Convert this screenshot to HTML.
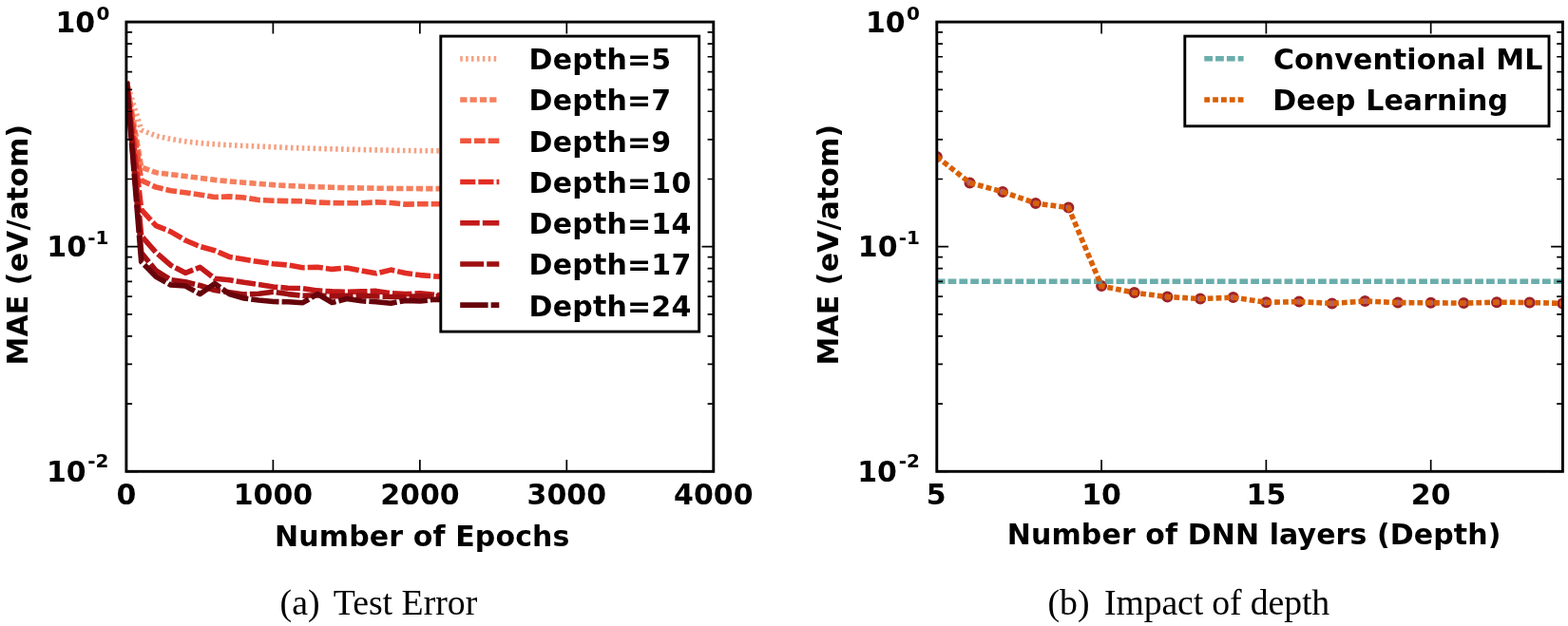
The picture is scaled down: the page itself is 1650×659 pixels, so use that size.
<!DOCTYPE html>
<html lang="en"><head><meta charset="utf-8"><title>MAE vs depth</title>
<style>html,body{margin:0;padding:0;background:#fff}body{width:1650px;height:659px;overflow:hidden}</style></head>
<body>
<svg width="1650" height="659" viewBox="0 0 1650 659" style="display:block">
<defs>
<clipPath id="c1"><rect x="132.9" y="23.1" width="617.9" height="473.2"/></clipPath>
<clipPath id="c2"><rect x="985.8" y="23.1" width="658.6000000000001" height="473.2"/></clipPath>
<filter id="soft" x="0" y="0" width="100%" height="100%" filterUnits="userSpaceOnUse" color-interpolation-filters="sRGB"><feGaussianBlur stdDeviation="0.45"/></filter>
</defs>
<g filter="url(#soft)">
<rect width="1650" height="659" fill="#fff"/>
<g clip-path="url(#c1)" fill="none" stroke-linejoin="round">
<polyline points="133.3,86.0 148.7,137.0 164.2,143.0 179.6,146.4 195.1,148.9 210.5,150.6 226.0,151.8 241.4,152.7 256.8,153.5 272.3,154.1 287.7,154.7 303.2,155.5 318.6,156.0 334.1,156.4 349.5,156.8 364.9,157.2 380.4,157.6 395.8,157.9 411.3,158.2 426.7,158.5 442.2,158.7 457.6,158.8 473.0,159.0" stroke="#f5a283" stroke-width="5.6" stroke-dasharray="2.6 3.3"/>
<polyline points="133.3,86.0 148.7,176.0 164.2,181.7 179.6,183.6 195.1,185.5 210.5,187.4 226.0,189.4 241.4,190.9 256.8,192.2 272.3,193.4 287.7,194.6 303.2,195.5 318.6,196.2 334.1,196.8 349.5,197.3 364.9,197.7 380.4,198.0 395.8,198.2 411.3,198.4 426.7,198.5 442.2,198.6 457.6,198.6 473.0,198.7" stroke="#f5805f" stroke-width="5.6" stroke-dasharray="7.28 3.05"/>
<polyline points="133.3,86.0 148.7,189.9 164.2,197.1 179.6,200.7 195.1,202.8 210.5,204.9 226.0,207.5 241.4,206.9 256.8,208.0 272.3,210.5 287.7,211.3 303.2,211.6 318.6,211.8 334.1,213.1 349.5,213.6 364.9,213.8 380.4,213.7 395.8,212.9 411.3,213.5 426.7,215.1 442.2,214.7 457.6,214.7 473.0,214.8" stroke="#f0553c" stroke-width="5.6" stroke-dasharray="11.70 3.05"/>
<polyline points="133.3,86.0 148.7,220.6 164.2,237.7 179.6,243.8 195.1,253.0 210.5,259.5 226.0,263.8 241.4,270.4 256.8,273.0 272.3,275.6 287.7,277.7 303.2,279.0 318.6,281.7 334.1,281.3 349.5,283.4 364.9,282.0 380.4,285.0 395.8,287.8 411.3,284.1 426.7,287.5 442.2,289.6 457.6,290.9 473.0,291.5" stroke="#e22d24" stroke-width="5.6" stroke-dasharray="16.12 3.05"/>
<polyline points="133.3,86.0 148.7,248.3 164.2,265.8 179.6,279.2 195.1,287.3 210.5,281.4 226.0,293.3 241.4,294.7 256.8,297.3 272.3,299.4 287.7,302.0 303.2,303.2 318.6,303.6 334.1,305.9 349.5,306.9 364.9,307.3 380.4,306.9 395.8,306.4 411.3,308.7 426.7,309.6 442.2,308.7 457.6,310.4 473.0,310.6" stroke="#c3191a" stroke-width="5.6" stroke-dasharray="20.55 3.05"/>
<polyline points="133.3,86.0 148.7,266.0 164.2,285.0 179.6,294.6 195.1,296.8 210.5,300.5 226.0,305.5 241.4,307.7 256.8,309.9 272.3,309.2 287.7,307.3 303.2,309.6 318.6,311.3 334.1,310.7 349.5,311.9 364.9,311.3 380.4,311.3 395.8,311.9 411.3,312.5 426.7,312.5 442.2,311.9 457.6,311.9 473.0,312.0" stroke="#9e0f12" stroke-width="5.6" stroke-dasharray="24.98 3.05"/>
<polyline points="133.3,86.0 148.7,275.5 164.2,291.4 179.6,300.0 195.1,301.0 210.5,309.5 226.0,298.6 241.4,309.5 256.8,314.0 272.3,316.0 287.7,317.5 303.2,317.8 318.6,318.7 334.1,309.6 349.5,318.5 364.9,314.5 380.4,316.8 395.8,317.7 411.3,319.3 426.7,316.4 442.2,317.0 457.6,315.2 473.0,315.5" stroke="#67040b" stroke-width="5.6" stroke-dasharray="29.40 3.05"/>
</g>
<path d="M132.90 496.3v-12.3M132.90 23.1v12.3M287.38 496.3v-12.3M287.38 23.1v12.3M441.85 496.3v-12.3M441.85 23.1v12.3M596.32 496.3v-12.3M596.32 23.1v12.3M750.80 496.3v-12.3M750.80 23.1v12.3M132.9 23.10h12.3M750.8 23.10h-12.3M132.9 259.70h12.3M750.8 259.70h-12.3M132.9 496.30h12.3M750.8 496.30h-12.3" stroke="#000" stroke-width="1.7" fill="none"/>
<path d="M132.9 188.48h6.2M750.8 188.48h-6.2M132.9 146.81h6.2M750.8 146.81h-6.2M132.9 117.25h6.2M750.8 117.25h-6.2M132.9 94.32h6.2M750.8 94.32h-6.2M132.9 75.59h6.2M750.8 75.59h-6.2M132.9 59.75h6.2M750.8 59.75h-6.2M132.9 46.03h6.2M750.8 46.03h-6.2M132.9 33.93h6.2M750.8 33.93h-6.2M132.9 425.08h6.2M750.8 425.08h-6.2M132.9 383.41h6.2M750.8 383.41h-6.2M132.9 353.85h6.2M750.8 353.85h-6.2M132.9 330.92h6.2M750.8 330.92h-6.2M132.9 312.19h6.2M750.8 312.19h-6.2M132.9 296.35h6.2M750.8 296.35h-6.2M132.9 282.63h6.2M750.8 282.63h-6.2M132.9 270.53h6.2M750.8 270.53h-6.2" stroke="#000" stroke-width="1.7" fill="none"/>
<rect x="132.9" y="23.1" width="617.9" height="473.2" fill="none" stroke="#000" stroke-width="2.9"/>
<rect x="463.8" y="38.1" width="271.90000000000003" height="311.0" fill="#fff" stroke="#000" stroke-width="2.9"/>
<line x1="484.2" x2="525.3" y1="61.85" y2="61.85" stroke="#f5a283" stroke-width="5.6" stroke-dasharray="2.6 3.3"/>
<line x1="484.2" x2="525.3" y1="105.07" y2="105.07" stroke="#f5805f" stroke-width="5.6" stroke-dasharray="7.28 3.05"/>
<line x1="484.2" x2="525.3" y1="148.29" y2="148.29" stroke="#f0553c" stroke-width="5.6" stroke-dasharray="11.70 3.05"/>
<line x1="484.2" x2="525.3" y1="191.51" y2="191.51" stroke="#e22d24" stroke-width="5.6" stroke-dasharray="16.12 3.05"/>
<line x1="484.2" x2="525.3" y1="234.73" y2="234.73" stroke="#c3191a" stroke-width="5.6" stroke-dasharray="20.55 3.05"/>
<line x1="484.2" x2="525.3" y1="277.95" y2="277.95" stroke="#9e0f12" stroke-width="5.6" stroke-dasharray="24.98 3.05"/>
<line x1="484.2" x2="525.3" y1="321.17" y2="321.17" stroke="#67040b" stroke-width="5.6" stroke-dasharray="29.40 3.05"/>
<g clip-path="url(#c2)" fill="none">
<circle cx="985.8" cy="164.9" r="4.55" fill="#b0607a" stroke="#a02426" stroke-width="2.9"/>
<circle cx="1020.5" cy="192.4" r="4.55" fill="#b0607a" stroke="#a02426" stroke-width="2.9"/>
<circle cx="1055.1" cy="201.9" r="4.55" fill="#b0607a" stroke="#a02426" stroke-width="2.9"/>
<circle cx="1089.8" cy="214.0" r="4.55" fill="#b0607a" stroke="#a02426" stroke-width="2.9"/>
<circle cx="1124.4" cy="218.6" r="4.55" fill="#b0607a" stroke="#a02426" stroke-width="2.9"/>
<circle cx="1159.1" cy="301.1" r="4.55" fill="#b0607a" stroke="#a02426" stroke-width="2.9"/>
<circle cx="1193.7" cy="308.1" r="4.55" fill="#b0607a" stroke="#a02426" stroke-width="2.9"/>
<circle cx="1228.4" cy="312.5" r="4.55" fill="#b0607a" stroke="#a02426" stroke-width="2.9"/>
<circle cx="1263.1" cy="314.5" r="4.55" fill="#b0607a" stroke="#a02426" stroke-width="2.9"/>
<circle cx="1297.7" cy="313.1" r="4.55" fill="#b0607a" stroke="#a02426" stroke-width="2.9"/>
<circle cx="1332.4" cy="318.3" r="4.55" fill="#b0607a" stroke="#a02426" stroke-width="2.9"/>
<circle cx="1367.0" cy="317.6" r="4.55" fill="#b0607a" stroke="#a02426" stroke-width="2.9"/>
<circle cx="1401.7" cy="319.4" r="4.55" fill="#b0607a" stroke="#a02426" stroke-width="2.9"/>
<circle cx="1436.4" cy="317.0" r="4.55" fill="#b0607a" stroke="#a02426" stroke-width="2.9"/>
<circle cx="1471.0" cy="318.6" r="4.55" fill="#b0607a" stroke="#a02426" stroke-width="2.9"/>
<circle cx="1505.7" cy="318.8" r="4.55" fill="#b0607a" stroke="#a02426" stroke-width="2.9"/>
<circle cx="1540.3" cy="319.1" r="4.55" fill="#b0607a" stroke="#a02426" stroke-width="2.9"/>
<circle cx="1575.0" cy="318.2" r="4.55" fill="#b0607a" stroke="#a02426" stroke-width="2.9"/>
<circle cx="1609.6" cy="318.5" r="4.55" fill="#b0607a" stroke="#a02426" stroke-width="2.9"/>
<circle cx="1644.3" cy="319.4" r="4.55" fill="#b0607a" stroke="#a02426" stroke-width="2.9"/>
<line x1="985.8" x2="1644.4" y1="296.3" y2="296.3" stroke="#50a09d" stroke-opacity="0.85" stroke-width="5.6" stroke-dasharray="8.75 3.05"/>
<polyline points="985.8,164.9 1020.5,192.4 1055.1,201.9 1089.8,214.0 1124.4,218.6 1159.1,301.1 1193.7,308.1 1228.4,312.5 1263.1,314.5 1297.7,313.1 1332.4,318.3 1367.0,317.6 1401.7,319.4 1436.4,317.0 1471.0,318.6 1505.7,318.8 1540.3,319.1 1575.0,318.2 1609.6,318.5 1644.3,319.4" stroke="#d95f02" stroke-width="5.6" stroke-dasharray="5.80 3.05" stroke-linejoin="round"/>
</g>
<path d="M985.80 496.3v-12.3M985.80 23.1v12.3M1159.09 496.3v-12.3M1159.09 23.1v12.3M1332.38 496.3v-12.3M1332.38 23.1v12.3M1505.67 496.3v-12.3M1505.67 23.1v12.3M985.8 23.10h12.3M1644.4 23.10h-12.3M985.8 259.70h12.3M1644.4 259.70h-12.3M985.8 496.30h12.3M1644.4 496.30h-12.3" stroke="#000" stroke-width="1.7" fill="none"/>
<path d="M985.8 188.48h6.2M1644.4 188.48h-6.2M985.8 146.81h6.2M1644.4 146.81h-6.2M985.8 117.25h6.2M1644.4 117.25h-6.2M985.8 94.32h6.2M1644.4 94.32h-6.2M985.8 75.59h6.2M1644.4 75.59h-6.2M985.8 59.75h6.2M1644.4 59.75h-6.2M985.8 46.03h6.2M1644.4 46.03h-6.2M985.8 33.93h6.2M1644.4 33.93h-6.2M985.8 425.08h6.2M1644.4 425.08h-6.2M985.8 383.41h6.2M1644.4 383.41h-6.2M985.8 353.85h6.2M1644.4 353.85h-6.2M985.8 330.92h6.2M1644.4 330.92h-6.2M985.8 312.19h6.2M1644.4 312.19h-6.2M985.8 296.35h6.2M1644.4 296.35h-6.2M985.8 282.63h6.2M1644.4 282.63h-6.2M985.8 270.53h6.2M1644.4 270.53h-6.2" stroke="#000" stroke-width="1.7" fill="none"/>
<rect x="985.8" y="23.1" width="658.6000000000001" height="473.2" fill="none" stroke="#000" stroke-width="2.9"/>
<rect x="1246.8" y="38.1" width="383.20000000000005" height="94.70000000000002" fill="#fff" stroke="#000" stroke-width="2.9"/>
<line x1="1267.3" x2="1308.6" y1="61.8" y2="61.8" stroke="#6aaeac" stroke-width="5.6" stroke-dasharray="8.75 3.05"/>
<line x1="1267.3" x2="1308.6" y1="105.0" y2="105.0" stroke="#d95f02" stroke-width="5.6" stroke-dasharray="5.80 3.05"/>
<g font-family="'DejaVu Sans', 'Liberation Sans', sans-serif" font-weight="bold" font-size="30px" fill="#000">
<text id="lg5" x="556.6" y="73.20" text-anchor="start" letter-spacing="0.2">Depth=5</text>
<text id="lg7" x="556.6" y="116.42" text-anchor="start" letter-spacing="0.2">Depth=7</text>
<text id="lg9" x="556.6" y="159.64" text-anchor="start" letter-spacing="0.2">Depth=9</text>
<text id="lg10" x="556.6" y="202.86" text-anchor="start" letter-spacing="0.2">Depth=10</text>
<text id="lg14" x="556.6" y="246.08" text-anchor="start" letter-spacing="0.2">Depth=14</text>
<text id="lg17" x="556.6" y="289.30" text-anchor="start" letter-spacing="0.2">Depth=17</text>
<text id="lg24" x="556.6" y="332.52" text-anchor="start" letter-spacing="0.2">Depth=24</text>
<text id="lgc" x="1339.9" y="73.0" text-anchor="start" letter-spacing="0.12">Conventional ML</text>
<text id="lgd" x="1339.2" y="116.3" text-anchor="start" letter-spacing="0.1">Deep Learning</text>
<text id="xt1_0" x="132.9" y="531.0" text-anchor="middle">0</text>
<text id="xt1_1" x="287.4" y="531.0" text-anchor="middle">1000</text>
<text id="xt1_2" x="441.9" y="531.0" text-anchor="middle">2000</text>
<text id="xt1_3" x="596.3" y="531.0" text-anchor="middle">3000</text>
<text id="xt1_4" x="750.8" y="531.0" text-anchor="middle">4000</text>
<text id="xt2_5" x="985.2" y="531.0" text-anchor="middle">5</text>
<text id="xt2_10" x="1159.1" y="531.0" text-anchor="middle">10</text>
<text id="xt2_15" x="1332.4" y="531.0" text-anchor="middle">15</text>
<text id="xt2_20" x="1505.7" y="531.0" text-anchor="middle">20</text>
<text id="xl1" x="444.3" y="575.2" text-anchor="middle" letter-spacing="0.13">Number of Epochs</text>
<text id="xl2" x="1319.7" y="573.2" text-anchor="middle" letter-spacing="0.1">Number of DNN layers (Depth)</text>
<text id="yl1" transform="translate(28.9,257.7) rotate(-90)" text-anchor="middle" letter-spacing="0.1">MAE (eV/atom)</text>
<text id="yl2" transform="translate(881.9,257.7) rotate(-90)" text-anchor="middle" letter-spacing="0.1">MAE (eV/atom)</text>
<text id="ytae0" x="58.5" y="34.2">10<tspan x="101.6" y="21.0" font-size="20px">0</tspan></text>
<text id="ytae1" x="49.3" y="269.8">10<tspan x="92.3" y="256.5" font-size="20px">-1</tspan></text>
<text id="ytae2" x="48.9" y="507.4">10<tspan x="92.3" y="492.4" font-size="20px">-2</tspan></text>
<text id="ytbe0" x="910.9" y="34.2">10<tspan x="954.0" y="21.0" font-size="20px">0</tspan></text>
<text id="ytbe1" x="902.8" y="269.8">10<tspan x="945.8" y="256.5" font-size="20px">-1</tspan></text>
<text id="ytbe2" x="902.2" y="506.7">10<tspan x="945.7" y="492.4" font-size="20px">-2</tspan></text>
</g>
<g font-family="'Liberation Serif', 'DejaVu Serif', serif" font-size="37.8px" fill="#000">
<text id="ca" x="294.6" y="647.2">(a) <tspan x="350.7">Test Error</tspan></text>
<text id="cb" x="1102.4" y="647.2">(b) <tspan x="1162.0" letter-spacing="-0.15">Impact of depth</tspan></text>
</g>
</g>
</svg>
</body></html>
